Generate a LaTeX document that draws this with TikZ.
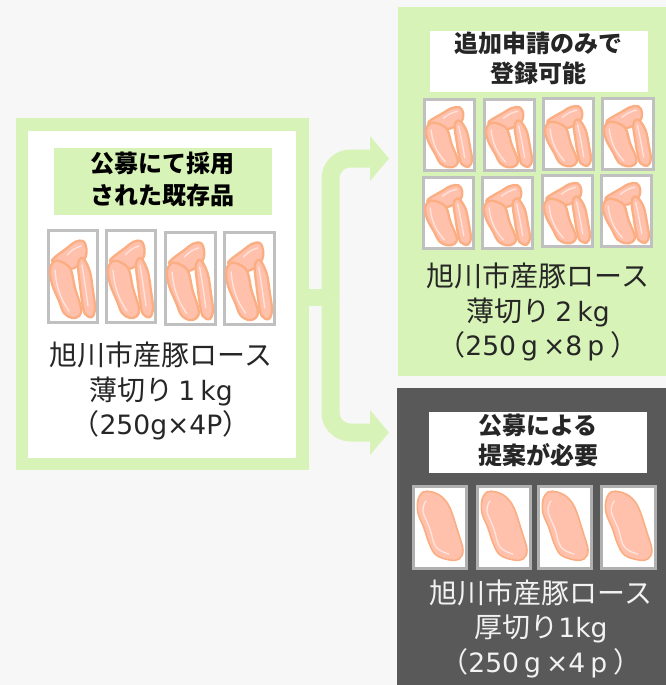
\documentclass[tikz,border=0pt]{standalone}
\usepackage{fontspec}
\setmainfont{Noto Sans CJK JP}
\newfontfamily\lat[Scale=0.95,WordSpace=0.6]{DejaVu Sans}
\usetikzlibrary{arrows.meta}
\definecolor{bgc}{HTML}{F7F7F7}
\definecolor{lgreen}{HTML}{D8F3B7}
\definecolor{dgray}{HTML}{595959}
\definecolor{meatf}{HTML}{FFC0AC}
\definecolor{meatl}{HTML}{FAAE82}
\definecolor{meath}{HTML}{FFE3DA}
\definecolor{frameg}{HTML}{C0C0C0}
\definecolor{frameh}{HTML}{B0B0B0}
\definecolor{inktxt}{HTML}{262626}
\tikzset{
  panel/.style={anchor=north west,inner sep=0pt,outer sep=0pt,draw=none},
  body/.style={align=center,inner sep=0pt,font=\fontsize{28}{34.5}\selectfont,text=inktxt},
  head/.style={align=center,inner sep=0pt,font=\fontsize{24}{#1}\selectfont\bfseries,text=inktxt},
  flow/.style={draw=lgreen,line width=18pt,rounded corners=20pt},
  flowarrow/.style={flow,-{Triangle[length=19pt,width=44pt,fill=lgreen]}},
  meatpart/.style={fill=meatf,draw=meatl,line width=2.3pt,line join=round},
  meatshine/.style={draw=meath,line width=1.4pt,line cap=round},
  tray/.style={fill=white,draw=frameg,line width=3pt},
}
% #1 x0, #2 y0, #3 x1, #4 y1
\newcommand{\slices}[4]{%
  \draw[tray] (#1+1.5,#2+1.5) rectangle (#3-1.5,#4-1.5);
  \begin{scope}[shift={(#1,#2)},xscale=(#3-#1)/52,yscale=(#4-#2)/95]
    \draw[meatpart] plot[smooth cycle,tension=.6] coordinates {(6,30)(20,19)(28,13)(36,12)(39.5,20)(37,31)(24,40)(8,34)};
    \draw[meatshine] plot[smooth,tension=.7] coordinates {(20,26)(27,20)(34,17)};
    \draw[meatpart] plot[smooth cycle,tension=.6] coordinates {(31,37)(33,30)(37,30)(43,43)(46,62)(48,79)(45,88)(38,85)(35,72)(33,56)};
    \draw[meatshine] plot[smooth,tension=.7] coordinates {(35,36)(38,55)(41,77)};
    \draw[meatpart] plot[smooth cycle,tension=.6] coordinates {(3,40)(8,32)(17,34)(24,41)(28,59)(34,79)(32,87)(25,89)(17,84)(12,72)(5,55)};
    \draw[meatshine] plot[smooth,tension=.7] coordinates {(8,41)(10,55)(15,70)(22,82)};
  \end{scope}}
\newcommand{\slab}[4]{%
  \draw[tray,draw=frameh] (#1+1.5,#2+1.5) rectangle (#3-1.5,#4-1.5);
  \begin{scope}[shift={(#1,#2)},xscale=(#3-#1)/56,yscale=(#4-#2)/85]
    \draw[meatpart,line width=1.6pt] plot[smooth cycle,tension=.6] coordinates {(6,15)(11,7)(20,7)(30,12)(38,23)(46,47)(51,65)(47,74)(38,75)(24,70)(17,58)(12,43)(6,28)};
    \draw[meatshine] plot[smooth,tension=.7] coordinates {(14,16)(11,26)(18,44)(24,62)(37,69)};
  \end{scope}}
\begin{document}
\begin{tikzpicture}[x=1pt,y=-1pt]
\useasboundingbox (0,0) rectangle (666,685);
\fill[bgc] (0,0) rectangle (666,685);
% panels
\node[panel,fill=lgreen,minimum width=293pt,minimum height=352pt] (leftouter) at (15.5,118) {};
\node[panel,fill=white,minimum width=268pt,minimum height=327pt] (leftinner) at (28,131) {};
\node[panel,fill=lgreen,minimum width=268pt,minimum height=369pt] (topright) at (398,7) {};
\node[panel,fill=dgray,minimum width=269pt,minimum height=297pt] (lowright) at (397,388) {};
% connector
\coordinate (junction) at (330.5,297.5);
\coordinate (toptip) at (389,158.5);
\coordinate (lowtip) at (389,432.5);
\draw[flow,line width=17pt,rounded corners=0pt] (leftouter.east |- junction) -- (junction);
\draw[flowarrow] (junction) |- (toptip);
\draw[flowarrow] (junction) |- (lowtip);
% headers
\node[panel,fill=lgreen,minimum width=218pt,minimum height=67pt] (lefthead) at (54,148) {};
\node[head=32,text=black] (lefthdtxt) at (162,179) {公募にて採用\\された既存品};
\node[panel,fill=white,minimum width=218pt,minimum height=61pt] (tophead) at (430,31) {};
\node[head=29.5] (tophdtxt) at (538,58.5) {追加申請のみで\\登録可能};
\node[panel,fill=white,minimum width=218pt,minimum height=61pt] (lowhead) at (429,412) {};
\node[head=30] (lowhdtxt) at (538,440) {公募による\\提案が必要};
% left trays
\slices{47}{229}{99}{324}
\slices{105}{229}{157}{324}
\slices{164}{231}{217}{326}
\slices{223}{231}{276}{326}
% top right trays
\slices{423}{98}{476}{172}
\slices{483}{98}{536}{172}
\slices{542}{97}{595}{171}
\slices{601}{97}{655}{171}
\slices{422}{176}{475}{250}
\slices{481}{176}{534}{250}
\slices{541}{174}{594}{248}
\slices{600}{174}{653}{248}
% lower right trays
\slab{412}{485}{468}{570}
\slab{476}{485}{532}{570}
\slab{537}{485}{593}{570}
\slab{600}{485}{657}{570}
% body text
\node[body] (lefttxt) at (161,391) {旭川市産豚ロース\\薄切り{\lat\ 1 kg}\\（{\lat 250g×4P}）};
\node[body] (toptxt) at (538,312) {旭川市産豚ロース\\薄切り{\lat\ 2 kg}\\（{\lat 250 g ×8 p} ）};
\node[body,text=white!95!black] (lowtxt) at (541,628.5) {旭川市産豚ロース\\厚切り{\lat 1kg}\\（{\lat 250 g ×4 p} ）};
\end{tikzpicture}
\end{document}
